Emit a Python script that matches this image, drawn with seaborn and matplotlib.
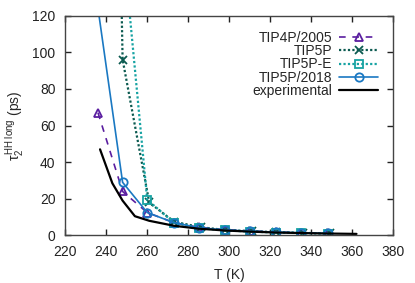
import numpy as np
import pandas as pd
import matplotlib
matplotlib.use("Agg")
import matplotlib.pyplot as plt
import seaborn as sns

# --- data ---
T_tip4p = [236, 248, 260, 273, 285, 298, 310, 323, 335, 348]
tau_tip4p = [67, 24, 12.5, 7.0, 4.5, 3.2, 2.5, 1.9, 1.5, 1.2]

T_tip5p = [236, 248, 261, 273, 286, 298, 311, 323, 336, 349]
tau_tip5p = [800, 96, 18, 7.5, 4.5, 3.0, 2.3, 1.8, 1.4, 1.1]

T_tip5pe = [248, 260, 273, 285, 298, 310, 323, 335, 348]
tau_tip5pe = [162, 19.5, 7.0, 4.0, 2.8, 2.1, 1.6, 1.3, 1.0]

T_tip5p18 = [236, 248, 260, 273, 285, 298, 310, 323, 335, 348]
tau_tip5p18 = [124, 29, 12.5, 7.0, 4.2, 3.0, 2.3, 1.8, 1.4, 1.1]

T_exp = [237, 243, 248, 254, 261, 273, 285, 298, 310, 323, 335, 348, 362]
tau_exp = [47, 28.5, 19, 10.5, 8.0, 5.3, 3.7, 2.7, 2.1, 1.6, 1.3, 1.05, 0.85]

sns.set_theme(style="ticks")
plt.rcParams['font.family'] = ['Liberation Sans', 'DejaVu Sans']
plt.rcParams['mathtext.fontset'] = 'custom'
plt.rcParams['mathtext.rm'] = 'Liberation Sans'
plt.rcParams['mathtext.it'] = 'Liberation Sans'

fig = plt.figure(figsize=(4.15, 2.83), dpi=100)
ax = fig.add_axes([0.157, 0.168, 0.791, 0.777])

series = [
    ("TIP4P/2005", T_tip4p, tau_tip4p, '#5a1ea0', (0, (4, 4)), '^', 1.2),
    ("TIP5P", T_tip5p, tau_tip5p, '#0b5a50', (0, (1, 1)), 'x', 1.6),
    ("TIP5P-E", T_tip5pe, tau_tip5pe, '#17a3a3', (0, (1, 1)), 's', 1.6),
    ("TIP5P/2018", T_tip5p18, tau_tip5p18, '#1a78c2', '-', 'o', 1.2),
]

for name, x, y, col, ls, mk, lw in series:
    sns.lineplot(x=x, y=y, ax=ax, color=col, linestyle=ls, linewidth=lw,
                 marker=mk, markersize=6, markerfacecolor='none',
                 markeredgecolor=col, markeredgewidth=1.3, label=name,
                 sort=False, estimator=None)

sns.lineplot(x=T_exp, y=tau_exp, ax=ax, color='black', linewidth=1.6,
             label='experimental', sort=False, estimator=None)

ax.set_xlim(220, 380)
ax.set_ylim(0, 120)
ax.set_xticks(np.arange(220, 381, 20))
ax.set_yticks(np.arange(0, 121, 20))
ax.tick_params(direction='in', length=4, width=1, top=True, right=True,
               labelsize=10, colors='#222222', pad=7)
for s in ax.spines.values():
    s.set_color('#444444')
    s.set_linewidth(1.0)

ax.set_xlabel('T (K)', fontsize=10, labelpad=6)
ax.set_ylabel(r'$\tau_2^{\mathrm{HH\ long}}$ (ps)', fontsize=10, labelpad=4)

ax.legend(loc='upper right', frameon=False, markerfirst=False, fontsize=10,
          handlelength=2.8, labelspacing=-0.05, borderaxespad=0.7,
          handletextpad=0.5)

fig.savefig('out.png', dpi=100)
